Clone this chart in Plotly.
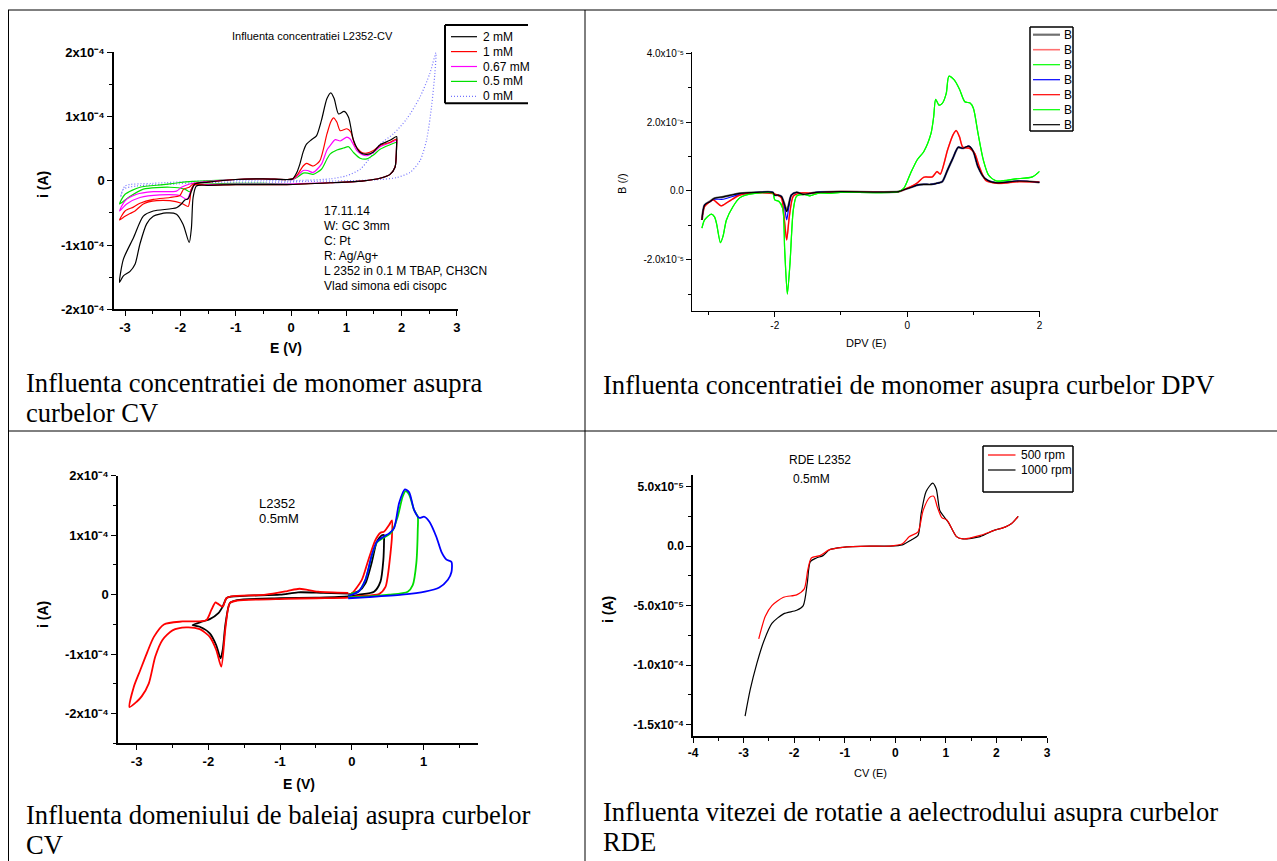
import plotly.graph_objects as go

W, H = 1277, 861
SANS = "Liberation Sans, Arial, sans-serif"
SERIF = "Liberation Serif, Times New Roman, serif"

# ---------------- Panel 1: CV, influence of monomer concentration (i in 1e-4 A) ----------------
CV1_UNIT = 1e-4
cv1_names = ["2 mM", "1 mM", "0.67 mM", "0.5 mM", "0 mM"]
cv1_e_2mM = [-0.08, 0.03, 0.10, 0.16, 0.22, 0.28, 0.37, 0.46, 0.55, 0.65, 0.72, 0.78, 0.86, 0.96, 1.04, 1.13, 1.25,
             1.37, 1.49, 1.61, 1.79, 1.91, 1.91, 1.88, 1.79, 1.61, 1.31, 0.71, -0.08, -0.5, -1.0, -1.5, -1.71, -1.77,
             -1.80, -1.84, -1.95, -2.07, -2.25, -2.49, -2.61, -2.73, -2.82, -2.91, -3.03, -3.10, -3.03, -2.85, -2.67,
             -2.49, -2.07, -1.98, -1.92, -1.86, -1.80, -1.74, -1.5, -1.0, -0.5, -0.08]
cv1_i_2mM = [0.02, 0.03, 0.12, 0.26, 0.45, 0.57, 0.64, 0.70, 0.94, 1.28, 1.37, 1.28, 1.04, 1.08, 0.99, 0.63, 0.44,
             0.41, 0.45, 0.56, 0.63, 0.69, 0.60, 0.21, 0.10, 0.04, 0.00, -0.03, -0.06, -0.06, -0.06, -0.07, -0.08,
             -0.26, -0.73, -0.96, -0.68, -0.52, -0.50, -0.55, -0.67, -0.98, -1.30, -1.41, -1.48, -1.58, -1.22, -0.89,
             -0.55, -0.47, -0.42, -0.36, -0.30, -0.28, -0.16, -0.05, -0.02, 0.02, 0.03, 0.02]
cv1_e_1mM = [-0.08, 0.03, 0.12, 0.22, 0.28, 0.40, 0.52, 0.65, 0.72, 0.77, 0.83, 0.89, 1.01, 1.08, 1.16, 1.28, 1.37,
             1.49, 1.61, 1.79, 1.91, 1.91, 1.88, 1.79, 1.61, 1.31, 0.71, -0.08, -0.5, -1.0, -1.5, -1.74, -1.80, -1.83,
             -1.86, -1.98, -2.19, -2.43, -2.67, -2.82, -2.91, -3.00, -3.10, -3.00, -2.85, -2.73, -2.49, -2.19, -2.01,
             -1.94, -1.84, -1.77, -1.5, -1.0, -0.5, -0.08]
cv1_i_1mM = [0.02, 0.03, 0.10, 0.23, 0.27, 0.23, 0.31, 0.73, 0.92, 0.98, 0.91, 0.78, 0.81, 0.76, 0.55, 0.44, 0.43,
             0.47, 0.55, 0.60, 0.65, 0.58, 0.21, 0.10, 0.04, 0.00, -0.03, -0.06, -0.06, -0.06, -0.07, -0.06, -0.13,
             -0.31, -0.40, -0.35, -0.31, -0.31, -0.36, -0.47, -0.51, -0.55, -0.61, -0.47, -0.41, -0.35, -0.29, -0.26,
             -0.23, -0.13, -0.10, -0.05, -0.02, 0.02, 0.03, 0.02]
cv1_e_067mM = [-0.08, 0.03, 0.12, 0.22, 0.30, 0.40, 0.55, 0.65, 0.71, 0.80, 0.89, 1.01, 1.07, 1.19, 1.28, 1.37, 1.49,
               1.61, 1.79, 1.91, 1.91, 1.88, 1.79, 1.61, 1.31, 0.71, -0.08, -0.5, -1.0, -1.5, -1.74, -1.80, -1.88,
               -2.01, -2.37, -2.73, -2.97, -3.10, -3.00, -2.79, -2.49, -2.07, -1.98, -1.83, -1.5, -1.0, -0.5, -0.08]
cv1_i_067mM = [0.02, 0.02, 0.08, 0.16, 0.16, 0.13, 0.26, 0.48, 0.55, 0.64, 0.62, 0.68, 0.65, 0.47, 0.41, 0.39, 0.44,
               0.53, 0.59, 0.63, 0.57, 0.21, 0.10, 0.04, 0.00, -0.03, -0.05, -0.05, -0.05, -0.06, -0.06, -0.13, -0.29,
               -0.23, -0.22, -0.26, -0.36, -0.47, -0.31, -0.21, -0.17, -0.16, -0.10, -0.05, -0.01, 0.02, 0.03, 0.02]
cv1_e_05mM = [-0.08, 0.03, 0.12, 0.22, 0.30, 0.40, 0.55, 0.65, 0.71, 0.83, 0.95, 1.04, 1.13, 1.25, 1.37, 1.49, 1.61,
              1.79, 1.91, 1.91, 1.88, 1.79, 1.61, 1.31, 0.71, -0.08, -0.5, -1.0, -1.5, -1.74, -1.77, -1.83, -1.92,
              -2.19, -2.67, -2.94, -3.10, -3.00, -2.73, -2.31, -2.04, -1.77, -1.0, -0.5, -0.08]
cv1_i_05mM = [0.02, 0.02, 0.06, 0.12, 0.12, 0.10, 0.18, 0.34, 0.42, 0.48, 0.51, 0.53, 0.44, 0.35, 0.34, 0.40, 0.49,
              0.56, 0.60, 0.55, 0.21, 0.10, 0.04, 0.00, -0.03, -0.05, -0.04, -0.04, -0.05, -0.06, -0.08, -0.17, -0.13,
              -0.10, -0.13, -0.26, -0.36, -0.21, -0.10, -0.06, -0.03, -0.01, 0.02, 0.03, 0.02]
cv1_e_0mM = [-0.05, 0.30, 0.71, 1.01, 1.25, 1.43, 1.61, 1.85, 2.09, 2.33, 2.51, 2.62, 2.60, 2.54, 2.45, 2.33, 2.15,
             1.91, 1.61, 1.01, 0.30, -0.05, -0.5, -1.0, -1.77, -2.07, -2.79, -3.03, -3.08, -3.00, -2.50, -1.50,
             -0.50, -0.05]
cv1_i_0mM = [0.00, 0.01, 0.03, 0.08, 0.18, 0.36, 0.57, 0.73, 0.96, 1.30, 1.67, 1.99, 1.67, 1.15, 0.63, 0.31, 0.13,
             0.05, 0.02, 0.00, -0.01, -0.02, -0.02, -0.02, -0.03, -0.05, -0.08, -0.13, -0.25, -0.08, -0.04, 0.00,
             0.01, 0.00]
cv1_notes = ["17.11.14", "W: GC 3mm", "C: Pt", "R: Ag/Ag+", "L 2352 in 0.1 M TBAP, CH3CN", "Vlad simona edi cisopc"]

# ---------------- Panel 2: DPV (B in 1e-5) ----------------
DPV_UNIT = 1e-5
dpv_names = ["B", "B", "B", "B", "B", "B", "B"]
dpv_e_black = [-3.10, -3.06, -2.98, -2.91, -2.78, -2.53, -2.27, -2.03, -2.00, -1.95, -1.90, -1.85, -1.82, -1.79,
               -1.75, -1.67, -1.57, -1.47, -1.37, -1.01, -0.13, -0.06, 0.05, 0.15, 0.25, 0.36, 0.46, 0.53, 0.61, 0.69,
               0.77, 0.84, 0.93, 1.00, 1.07, 1.17, 1.33, 1.69, 2.00]
dpv_b_black = [-0.84, -0.41, -0.31, -0.21, -0.17, -0.07, -0.04, -0.04, -0.12, -0.12, -0.16, -0.41, -0.60, -0.41,
               -0.12, -0.04, -0.10, -0.07, -0.04, -0.02, -0.02, 0.03, 0.10, 0.17, 0.19, 0.19, 0.23, 0.27, 0.61, 0.95,
               1.27, 1.24, 1.30, 1.14, 0.70, 0.37, 0.24, 0.29, 0.25]
dpv_b_gray = [-0.84, -0.41, -0.30, -0.21, -0.17, -0.07, -0.04, -0.04, -0.12, -0.12, -0.16, -0.40, -0.58, -0.40,
              -0.12, -0.04, -0.10, -0.07, -0.04, -0.02, -0.02, 0.03, 0.10, 0.17, 0.19, 0.19, 0.23, 0.27, 0.61, 0.95,
              1.26, 1.24, 1.29, 1.14, 0.70, 0.37, 0.24, 0.29, 0.25]
dpv_b_blue = [-0.84, -0.41, -0.31, -0.24, -0.24, -0.10, -0.04, -0.04, -0.12, -0.12, -0.16, -0.50, -0.84, -0.50,
              -0.12, -0.04, -0.10, -0.07, -0.04, -0.02, -0.02, 0.03, 0.10, 0.17, 0.19, 0.19, 0.23, 0.27, 0.61, 0.95,
              1.27, 1.24, 1.30, 1.14, 0.70, 0.37, 0.24, 0.29, 0.25]
dpv_e_red = [-3.10, -3.06, -2.93, -2.89, -2.81, -2.70, -2.53, -2.27, -2.00, -1.90, -1.86, -1.82, -1.78, -1.72, -1.62,
             -1.47, -1.01, -0.13, -0.06, 0.05, 0.15, 0.25, 0.38, 0.45, 0.50, 0.61, 0.69, 0.74, 0.79, 0.84, 0.94, 1.02,
             1.09, 1.19, 1.38, 1.69, 2.00]
dpv_b_red = [-0.84, -0.45, -0.26, -0.31, -0.43, -0.31, -0.12, -0.05, -0.09, -0.20, -0.74, -1.42, -0.74, -0.15,
             -0.06, -0.06, -0.02, -0.02, 0.03, 0.12, 0.23, 0.40, 0.41, 0.56, 0.49, 1.19, 1.62, 1.75, 1.57, 1.27, 1.24,
             1.09, 0.70, 0.30, 0.22, 0.27, 0.26]
dpv_e_green = [-3.10, -3.06, -2.96, -2.91, -2.88, -2.82, -2.78, -2.73, -2.63, -2.53, -2.38, -2.03, -2.00, -1.94,
               -1.88, -1.85, -1.81, -1.77, -1.72, -1.67, -1.55, -1.47, -1.34, -1.16, -1.01, -0.13, -0.05, 0.05, 0.15,
               0.25, 0.36, 0.40, 0.43, 0.48, 0.53, 0.59, 0.63, 0.71, 0.79, 0.87, 0.95, 1.00, 1.07, 1.15, 1.23, 1.35,
               1.64, 1.89, 2.00]
dpv_b_green = [-1.08, -0.84, -0.67, -0.75, -0.94, -1.50, -1.30, -0.84, -0.45, -0.20, -0.09, -0.06, -0.26, -0.30,
               -0.50, -1.71, -2.99, -2.10, -0.55, -0.15, -0.10, -0.14, -0.06, -0.07, -0.04, -0.02, 0.08, 0.51, 0.90,
               1.14, 1.67, 2.15, 2.66, 2.49, 2.54, 2.83, 3.33, 3.22, 2.95, 2.59, 2.55, 2.40, 1.67, 0.90, 0.46, 0.29,
               0.35, 0.41, 0.57]

# ---------------- Panel 3: CV, influence of scan domain (i in 1e-4 A) ----------------
CV3_UNIT = 1e-4
cv3_e_red = [-0.05, 0.0, 0.14, 0.23, 0.33, 0.40, 0.45, 0.52, 0.56, 0.56, 0.54, 0.50, 0.47, 0.38, 0.10, -0.05, -0.5,
             -0.94, -1.60, -1.70, -1.76, -1.82, -1.89, -1.98, -2.12, -2.31, -2.50, -2.64, -2.74, -2.83, -2.93, -3.00,
             -3.10, -3.04, -2.95, -2.85, -2.76, -2.62, -2.36, -2.03, -1.96, -1.90, -1.87, -1.80, -1.75, -1.68, -1.20,
             -0.90, -0.73, -0.47, -0.05]
cv3_i_red = [0.00, 0.02, 0.25, 0.58, 0.92, 1.04, 1.06, 1.17, 1.25, 0.97, 0.70, 0.30, 0.13, 0.01, -0.02, -0.05, -0.06,
             -0.07, -0.10, -0.14, -0.54, -1.21, -0.93, -0.71, -0.58, -0.55, -0.60, -0.76, -1.04, -1.49, -1.71, -1.80,
             -1.89, -1.55, -1.27, -0.96, -0.71, -0.50, -0.45, -0.43, -0.26, -0.13, -0.15, -0.20, -0.06, -0.03, 0.00,
             0.06, 0.10, 0.05, 0.03]
cv3_e_black = [-0.05, 0.0, 0.10, 0.19, 0.28, 0.35, 0.42, 0.45, 0.45, 0.44, 0.40, 0.31, 0.10, -0.05, -0.5, -1.0, -1.60,
               -1.70, -1.76, -1.80, -1.83, -1.89, -1.98, -2.12, -2.22, -2.08, -1.98, -1.86, -1.80, -1.74, -1.5, -1.0,
               -0.75, -0.4, -0.05]
cv3_i_black = [0.00, 0.02, 0.06, 0.19, 0.55, 0.89, 1.00, 1.00, 0.92, 0.58, 0.22, 0.05, 0.00, -0.03, -0.05, -0.06,
               -0.09, -0.14, -0.48, -0.93, -1.07, -0.85, -0.65, -0.54, -0.51, -0.45, -0.41, -0.31, -0.20, -0.05, -0.02,
               0.00, 0.04, 0.03, 0.02]
cv3_e_green = [-0.05, 0.0, 0.09, 0.19, 0.28, 0.35, 0.42, 0.48, 0.56, 0.64, 0.71, 0.75, 0.80, 0.87, 0.92, 0.92, 0.90,
               0.85, 0.78, 0.52, 0.02, -0.05]
cv3_i_green = [-0.02, 0.02, 0.05, 0.25, 0.66, 0.88, 0.94, 0.98, 1.06, 1.31, 1.65, 1.74, 1.68, 1.42, 1.31, 1.09, 0.53,
               0.16, 0.05, 0.00, -0.04, -0.04]
cv3_e_blue = [-0.05, 0.09, 0.19, 0.28, 0.35, 0.45, 0.52, 0.59, 0.66, 0.74, 0.80, 0.87, 0.94, 1.01, 1.08, 1.18, 1.25,
              1.32, 1.39, 1.39, 1.34, 1.22, 1.02, 0.70, 0.24, -0.05]
cv3_i_blue = [-0.02, 0.05, 0.25, 0.67, 0.89, 0.98, 1.03, 1.12, 1.54, 1.77, 1.72, 1.42, 1.29, 1.31, 1.23, 0.97, 0.72,
              0.59, 0.55, 0.38, 0.25, 0.12, 0.05, 0.00, -0.04, -0.06]

# ---------------- Panel 4: RDE (i in 1e-4 A) ----------------
RDE_UNIT = 1e-4
rde_names = ["500 rpm", "1000 rpm"]
rde_e_500 = [-2.70, -2.57, -2.44, -2.21, -1.95, -1.80, -1.73, -1.66, -1.49, -1.30, -1.04, -0.5, -0.12, 0.14, 0.28,
             0.45, 0.55, 0.68, 0.76, 0.83, 0.92, 1.02, 1.21, 1.34, 1.68, 1.94, 2.17, 2.30, 2.43]
rde_i_500 = [-0.78, -0.59, -0.50, -0.43, -0.41, -0.36, -0.20, -0.10, -0.08, -0.03, -0.01, 0.0, 0.0, 0.02, 0.08, 0.12,
             0.30, 0.41, 0.42, 0.33, 0.24, 0.22, 0.08, 0.06, 0.09, 0.13, 0.16, 0.19, 0.25]
rde_e_1000 = [-2.97, -2.87, -2.74, -2.60, -2.44, -2.21, -1.95, -1.82, -1.74, -1.68, -1.56, -1.43, -1.30, -1.04, -0.5,
              -0.12, 0.14, 0.31, 0.45, 0.51, 0.61, 0.74, 0.81, 0.88, 0.94, 1.05, 1.21, 1.34, 1.68, 1.94, 2.17, 2.30,
              2.43]
rde_i_1000 = [-1.43, -1.21, -0.99, -0.80, -0.65, -0.57, -0.54, -0.50, -0.31, -0.13, -0.10, -0.08, -0.03, -0.01, 0.0,
              0.0, 0.01, 0.05, 0.09, 0.27, 0.46, 0.53, 0.48, 0.30, 0.26, 0.20, 0.08, 0.06, 0.08, 0.13, 0.16, 0.19,
              0.25]

captions = [
    ["Influenta concentratiei de monomer asupra", "curbelor CV"],
    ["Influenta concentratiei de monomer asupra curbelor DPV"],
    ["Influenta domeniului de baleiaj asupra curbelor", "CV"],
    ["Influenta vitezei de rotatie a aelectrodului asupra curbelor", "RDE"],
]


def X(px):
    return px / W


def Y(py):
    return 1 - py / H


def scaled(vals, unit):
    return [v * unit for v in vals]


fig = go.Figure()


def add_line(xs, ys, unit, axis, color, width=1.2, dash="solid", name=""):
    fig.add_trace(go.Scatter(x=xs, y=scaled(ys, unit), mode="lines", name=name, xaxis="x" + axis,
                             yaxis="y" + axis, line=dict(color=color, width=width, dash=dash, shape="spline",
                                                         smoothing=0.7), hoverinfo="skip", showlegend=False))


DOTTED = "1px,2px"

# Panel 1
p1_colors = ["#000000", "#ff0000", "#ff00ff", "#00e000", "#7474ff"]
p1_data = [(cv1_e_2mM, cv1_i_2mM), (cv1_e_1mM, cv1_i_1mM), (cv1_e_067mM, cv1_i_067mM),
           (cv1_e_05mM, cv1_i_05mM), (cv1_e_0mM, cv1_i_0mM)]
for (xs, ys), c, nm in zip(p1_data[::-1], p1_colors[::-1], cv1_names[::-1]):
    add_line(xs, ys, CV1_UNIT, "", c, 1.2, DOTTED if nm == "0 mM" else "solid", nm)

# Panel 2
p2_colors = ["#707070", "#ff7070", "#00ff00", "#0000ff", "#ff0000", "#00ff00", "#000000"]
p2_widths = [2.2, 1.6, 1.2, 1.2, 1.2, 1.2, 1.2]
p2_data = [(dpv_e_black, dpv_b_gray), (dpv_e_red, dpv_b_red), (dpv_e_green, dpv_b_green),
           (dpv_e_black, dpv_b_blue), (dpv_e_red, dpv_b_red), (dpv_e_green, dpv_b_green),
           (dpv_e_black, dpv_b_black)]
for (xs, ys), c, w in zip(p2_data, p2_colors, p2_widths):
    add_line(xs, ys, DPV_UNIT, "2", c, w, name="B")

# Panel 3 (drawing order: black, red, green, blue)
p3_data = [(cv3_e_black, cv3_i_black, "#000000"), (cv3_e_red, cv3_i_red, "#ff0000"),
           (cv3_e_green, cv3_i_green, "#00dd00"), (cv3_e_blue, cv3_i_blue, "#0000ff")]
for xs, ys, c in p3_data:
    add_line(xs, ys, CV3_UNIT, "3", c, 1.8)

# Panel 4
add_line(rde_e_1000, rde_i_1000, RDE_UNIT, "4", "#000000", 1.2, name="1000 rpm")
add_line(rde_e_500, rde_i_500, RDE_UNIT, "4", "#ff0000", 1.2, name="500 rpm")

SUP = str.maketrans("-0123456789", "⁻⁰¹²³⁴⁵⁶⁷⁸⁹")


def sup(m, e):
    return f"{m}x10{e.translate(SUP)}"


def axis(dom, rng, vals, texts, minor, size, bold, lw=1.5):
    return dict(domain=list(dom), range=rng, tickmode="array", tickvals=vals, ticktext=texts,
                showline=True, linecolor="black", linewidth=lw, ticks="outside", ticklen=5, tickwidth=1.2,
                tickcolor="black", showgrid=False, zeroline=False, mirror=False, automargin=False,
                tickfont=dict(family=SANS, size=size, color="black", weight="bold" if bold else "normal"),
                minor=dict(ticks="outside", ticklen=3, tickwidth=1, tickcolor="black", dtick=minor,
                           tick0=0, showgrid=False))


L = {}
# Panel 1 axes
L["xaxis"] = axis((X(114), X(457.5)), [-3.2, 3.01], [-3, -2, -1, 0, 1, 2, 3],
                  ["-3", "-2", "-1", "0", "1", "2", "3"], 0.5, 13, True)
L["yaxis"] = axis((Y(309.3), Y(52.3)), [-2e-4, 2e-4], [-2e-4, -1e-4, 0, 1e-4, 2e-4],
                  [sup("-2", "-4"), sup("-1", "-4"), "0", sup("1", "-4"), sup("2", "-4")], 0.5e-4, 13, True)
L["xaxis"]["anchor"] = "y"
L["yaxis"]["anchor"] = "x"

# Panel 2 axes
L["xaxis2"] = axis((X(692), X(1039.6)), [-3.25, 2.0], [-2, 0, 2], ["-2", "0", "2"], 1, 10, False, 1.2)
L["yaxis2"] = axis((Y(311.3), Y(51.7)), [-3.49e-5, 4.04e-5], [-2e-5, 0, 2e-5, 4e-5],
                   [sup("-2.0", "-5"), "0.0", sup("2.0", "-5"), sup("4.0", "-5")], 1e-5, 10, False, 1.2)
L["xaxis2"]["anchor"] = "y2"
L["yaxis2"]["anchor"] = "x2"

# Panel 3 axes
L["xaxis3"] = axis((X(118), X(478)), [-3.26, 1.76], [-3, -2, -1, 0, 1], ["-3", "-2", "-1", "0", "1"], 0.5, 13, True)
L["yaxis3"] = axis((Y(743.4), Y(475.7)), [-2.5e-4, 2e-4], [-2e-4, -1e-4, 0, 1e-4, 2e-4],
                   [sup("-2", "-4"), sup("-1", "-4"), "0", sup("1", "-4"), sup("2", "-4")], 0.5e-4, 13, True)
L["xaxis3"]["anchor"] = "y3"
L["yaxis3"]["anchor"] = "x3"

# Panel 4 axes
L["xaxis4"] = axis((X(693), X(1047)), [-4, 3], [-4, -3, -2, -1, 0, 1, 2, 3],
                   ["-4", "-3", "-2", "-1", "0", "1", "2", "3"], 0.5, 12, True)
L["yaxis4"] = axis((Y(736), Y(475)), [-1.597e-4, 5.98e-5], [-1.5e-4, -1e-4, -5e-5, 0, 5e-5],
                   [sup("-1.5", "-4"), sup("-1.0", "-4"), sup("-5.0", "-5"), "0.0", sup("5.0", "-5")],
                   2.5e-5, 12, True)
L["xaxis4"]["anchor"] = "y4"
L["yaxis4"]["anchor"] = "x4"

annotations = []
shapes = []


def text(t, x, y, size, xanchor="center", bold=False, family=SANS, angle=0):
    if bold:
        t = f"<b>{t}</b>"
    annotations.append(dict(text=t, x=X(x), y=Y(y), xref="paper", yref="paper", xanchor=xanchor, yanchor="middle",
                            showarrow=False, textangle=angle, font=dict(family=family, size=size, color="black")))


def hline(x0, x1, y, color="black", width=1, dash="solid"):
    shapes.append(dict(type="line", xref="paper", yref="paper", x0=X(x0), x1=X(x1), y0=Y(y), y1=Y(y),
                       line=dict(color=color, width=width, dash=dash)))


def vline(x, y0, y1, color="black", width=1):
    shapes.append(dict(type="line", xref="paper", yref="paper", x0=X(x), x1=X(x), y0=Y(y0), y1=Y(y1),
                       line=dict(color=color, width=width)))


# table borders
hline(8, 1277, 10)
hline(8, 1277, 431)
vline(8.5, 10, 861)
vline(585, 10, 861)

# Panel 1 texts
text("Influenta concentratiei L2352-CV", 312, 36, 11)
for k, line in enumerate(cv1_notes):
    text(line, 322, 211 + k * 14.9, 12, xanchor="left")
text("i (A)", 43, 185, 14, bold=True, angle=-90)
text("E (V)", 286, 348, 14, bold=True)
# Panel 1 legend (box open on the right, as in the reference)
hline(445, 528, 25, width=2)
hline(445, 528, 103.3, width=2)
vline(445, 25, 103.3, width=2)
for k, (nm, c) in enumerate(zip(cv1_names, p1_colors)):
    yy = 36.7 + k * 14.9
    hline(451, 477, yy, color=c, width=1.2, dash=DOTTED if nm == "0 mM" else "solid")
    text(nm, 481, yy, 12, xanchor="left")

# Panel 2 texts
text("B (/)", 622, 184, 11, angle=-90)
text("DPV (E)", 866, 343, 11)
hline(1030, 1073, 27, width=1.5)
hline(1030, 1073, 131, width=1.5)
vline(1030, 27, 131, width=1.5)
vline(1073, 27, 131, width=1.5)
for k, (nm, c, w) in enumerate(zip(dpv_names, p2_colors, p2_widths)):
    yy = 34.7 + k * 15
    hline(1033, 1060, yy, color=c, width=w)
    text(nm, 1062, yy, 12, xanchor="left")

# Panel 3 texts
text("L2352", 257, 503, 13, xanchor="left")
text("0.5mM", 257, 518, 13, xanchor="left")
text("i (A)", 43, 615, 14, bold=True, angle=-90)
text("E (V)", 299, 784, 14, bold=True)

# Panel 4 texts
text("RDE L2352", 820, 460, 12)
text("0.5mM", 811, 479, 12)
text("i (A)", 608, 610, 14, bold=True, angle=-90)
text("CV (E)", 870, 773, 11)
hline(983, 1073, 446, width=1.5)
hline(983, 1073, 492, width=1.5)
vline(983, 446, 492, width=1.5)
vline(1073, 446, 492, width=1.5)
for k, (nm, c) in enumerate(zip(rde_names, ["#ff0000", "#000000"])):
    yy = 455 + k * 15
    hline(988, 1015.5, yy, color=c, width=1.2)
    text(nm, 1019, yy, 12, xanchor="left")

# Captions
cap_pos = [(24, [383, 413]), (601, [385]), (24, [815, 845]), (601, [811.5, 842])]
for lines, (x0, ys) in zip(captions, cap_pos):
    for line, yy in zip(lines, ys):
        text(line, x0, yy, 26.6, xanchor="left", family=SERIF)

fig.update_layout(width=W, height=H, margin=dict(l=0, r=0, t=0, b=0, autoexpand=False), paper_bgcolor="white",
                  plot_bgcolor="white", showlegend=False, annotations=annotations, shapes=shapes, **L)

fig.write_html("out.html", post_script="document.body.style.margin='0px';document.body.style.overflow='hidden';")
